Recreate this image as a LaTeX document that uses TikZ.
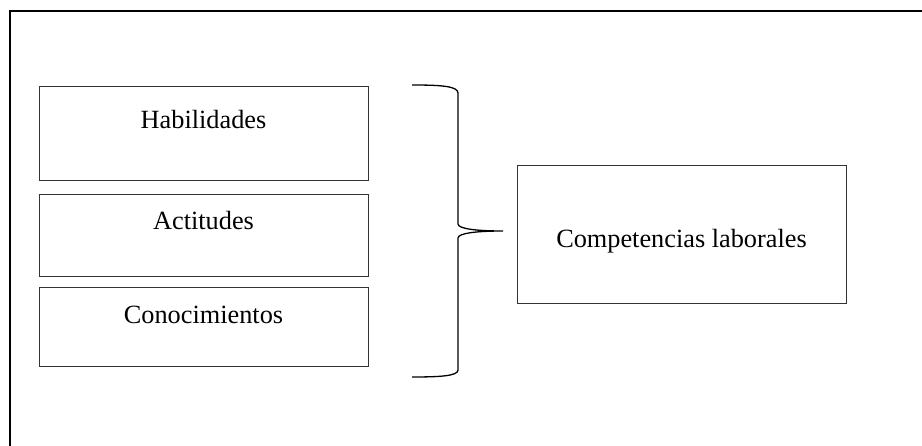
\documentclass[tikz,border=0pt]{standalone}
\usepackage{fontspec}
\setmainfont{Liberation Serif}
\begin{document}
\begin{tikzpicture}[x=1pt,y=-1pt,
  every node/.style={inner sep=0pt,outer sep=0pt},
  itembox/.style={draw=black!80,line width=1pt,rectangle,anchor=north west},
  itemtext/.style={anchor=base,font=\fontsize{26.3}{31}\selectfont},
  bracepath/.style={draw=black,line width=1.3pt}]
  \useasboundingbox (0,0) rectangle (922,446);
  % outer frame (only top and left edges fall inside the page)
  \draw[line width=2.6pt] (10,446) -- (10,11) -- (922,11);

  % left column of boxes
  \node[itembox,minimum width=329pt,minimum height=94pt] (hab) at (39,87) {};
  \node[itembox,minimum width=329pt,minimum height=82pt] (act) at (39,195) {};
  \node[itembox,minimum width=329pt,minimum height=79pt] (con) at (39,288) {};
  \node[itemtext] (habt) at (203.5,129) {Habilidades};
  \node[itemtext] (actt) at (203.5,230) {Actitudes};
  \node[itemtext] (cont) at (203.5,324) {Conocimientos};

  % result box
  \node[itembox,minimum width=329pt,minimum height=138pt] (comp) at (517,166) {};
  \node[itemtext] (compt) at (681.5,248) {Competencias laborales};

  % curly brace joining the three boxes to the result
  \coordinate (btop) at (412,85);
  \coordinate (btip) at (503,231);
  \coordinate (bbot) at (412,377);
  \path[bracepath] (btop) .. controls (440,85) and (458,86) .. (458,93)
    -- (458,224) .. controls (458,229) and (478,231) .. (btip)
    .. controls (478,231) and (458,233) .. (458,238)
    -- (458,370) .. controls (458,376) and (440,377) .. (bbot);
\end{tikzpicture}
\end{document}
